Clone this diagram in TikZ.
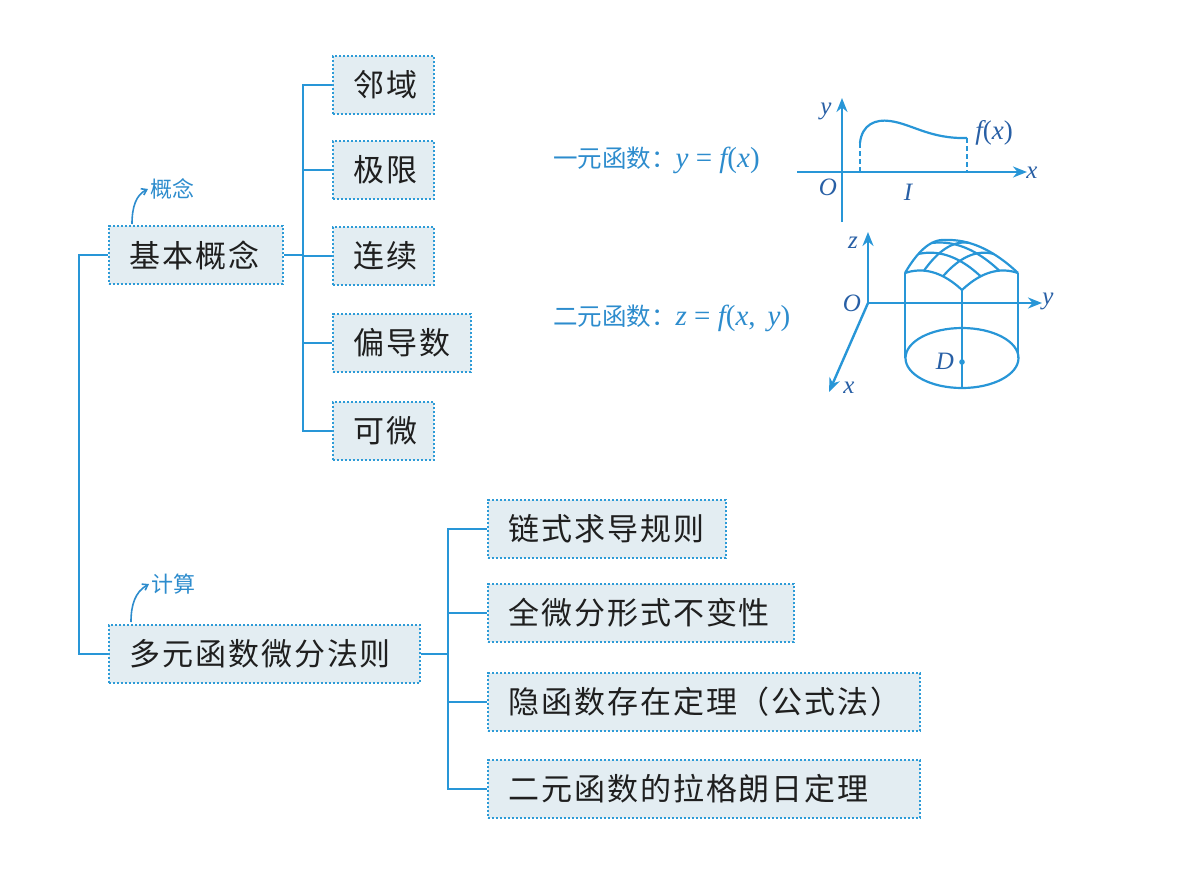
\documentclass[tikz,border=0pt]{standalone}
\usepackage{fontspec}
\newfontfamily\cjk{Noto Sans CJK SC}
\newfontfamily\cjkbox[LetterSpace=6]{Noto Sans CJK SC}
\newfontfamily\tms{Liberation Serif}
\newcommand\mi[1]{{\itshape #1}}
\usetikzlibrary{arrows.meta}
\definecolor{lineblue}{RGB}{40,150,215}
\definecolor{boxfill}{RGB}{227,237,242}
\definecolor{boxedge}{RGB}{45,155,215}
\definecolor{labblue}{RGB}{40,95,165}
\definecolor{handblue}{RGB}{45,140,205}
\newcommand\domeX[2]{((1-#1)*(1-#2)*905+(#1)*(1-#2)*962+(#1)*(#2)*1018+(1-#1)*(#2)*945)}
\newcommand\domeY[2]{((1-#1)*(1-#2)*273+(#1)*(1-#2)*290+(#1)*(#2)*273+(1-#1)*(#2)*240-18*(1-((2*#1-1)*(2*#1-1)+(2*#2-1)*(2*#2-1))/2))}
\newcommand\bxt[2]{\makebox[#1pt][l]{#2}}
\tikzset{
 cbox/.style={draw=boxedge, fill=boxfill, line width=1.8pt, dash pattern=on 2.4pt off 1.6pt,
   anchor=west, minimum height=58pt, inner xsep=21pt, inner ysep=0pt,
   font=\cjkbox\fontsize{31}{36}\selectfont, text=black!88},
 conn/.style={draw=lineblue, line width=2.4pt},
 ax/.style={draw=lineblue, line width=2.4pt, -{Stealth[length=14pt,width=11pt]}},
 lab/.style={text=labblue, font=\tms\fontsize{25}{28}\selectfont, inner sep=0pt},
 hand/.style={text=handblue, font=\cjk\fontsize{22}{24}\selectfont, inner sep=2pt, anchor=west},
 handarr/.style={draw=handblue, line width=1.6pt, -{Straight Barb[length=5pt,width=7pt]}},
 fnlab/.style={text=handblue, font=\tms\fontsize{29}{32}\selectfont, inner sep=0pt, anchor=west},
 shape3d/.style={draw=lineblue, line width=2.2pt},
}
\begin{document}
\begin{tikzpicture}[x=1pt,y=-1pt]
\useasboundingbox (0,0) rectangle (1189,876);

% boxes
\node[cbox] (b0) at (108,255) {\bxt{132}{基本概念}};
\node[cbox] (c1) at (332,85) {\bxt{59}{邻域}};
\node[cbox] (c2) at (332,170) {\bxt{59}{极限}};
\node[cbox] (c3) at (332,256) {\bxt{59}{连续}};
\node[cbox] (c4) at (332,343) {\bxt{96}{偏导数}};
\node[cbox] (c5) at (332,431) {\bxt{59}{可微}};
\node[cbox] (b1) at (108,654) {\bxt{269}{多元函数微分法则}};
\node[cbox] (d1) at (487,529) {\bxt{196}{链式求导规则}};
\node[cbox] (d2) at (487,613) {\bxt{264}{全微分形式不变性}};
\node[cbox] (d3) at (487,702) {\bxt{390}{隐函数存在定理（公式法）}};
\node[cbox] (d4) at (487,789) {\bxt{390}{二元函数的拉格朗日定理}};

% connectors
\coordinate (t) at (79,450);
\draw[conn] (b0.west) -| (t) |- (b1.west);
\coordinate (j1) at (303,256);
\draw[conn] (b0.east) -- (b0.east -| j1);
\draw[conn] (c1.west) -| (j1);
\draw[conn] (c5.west) -| (j1);
\draw[conn] (c2.west) -- (c2.west -| j1);
\draw[conn] (c3.west) -- (c3.west -| j1);
\draw[conn] (c4.west) -- (c4.west -| j1);
\coordinate (j2) at (448,654);
\draw[conn] (b1.east) -- (b1.east -| j2);
\draw[conn] (d1.west) -| (j2);
\draw[conn] (d4.west) -| (j2);
\draw[conn] (d2.west) -- (d2.west -| j2);
\draw[conn] (d3.west) -- (d3.west -| j2);

% handwritten annotations
\node[hand] (k0) at (148,189) {概念};
\coordinate (a0) at (132,224);
\draw[handarr] (a0) .. controls (132,207) and (136,195) .. (k0.west);
\node[hand] (k1) at (149,584) {计算};
\coordinate (a1) at (131,622);
\draw[handarr] (a1) .. controls (131,605) and (135,592) .. (k1.west);

% function labels
\node[fnlab] (f1) at (553,160) {{\cjk\fontsize{24.5}{28}\selectfont 一元函数：}\mi{y} = \mi{f}(\mi{x})};
\node[fnlab] (f2) at (553,318) {{\cjk\fontsize{24.5}{28}\selectfont 二元函数：}\mi{z} = \mi{f}(\mi{x},\hspace{12pt}\mi{y})};

% graph 1
\draw[ax] (842,222) -- (842,98);
\draw[ax] (797,172) -- (1027,172);
\draw[shape3d] (860,143) .. controls (862,124) and (876,119) .. (890,121)
   .. controls (912,124) and (930,139) .. (967,138);
\draw[shape3d, line width=1.8pt, dash pattern=on 5pt off 3pt] (860,143) -- (860,172);
\draw[shape3d, line width=1.8pt, dash pattern=on 5pt off 3pt] (967,138) -- (967,172);
\node[lab] (ly) at (826,111) {\mi{y}};
\node[lab] (lo) at (828,187) {\mi{O}};
\node[lab] (li) at (908,192) {\mi{I}};
\node[lab] (lx) at (1032,173) {\mi{x}};
\node[lab, font=\tms\fontsize{27}{30}\selectfont] (lf) at (994,133) {\mi{f}(\mi{x})};

% graph 2
\coordinate (o2) at (868,303);
\draw[ax] (o2) -- (868,232);
\draw[ax] (o2) -- (1042,303);
\draw[ax] (o2) -- (829,392);
% cylinder
\draw[shape3d] (962,358) ellipse (56.5 and 30);
\draw[shape3d] (905,273) -- (905,358);
\draw[shape3d] (1018,273) -- (1018,358);
\draw[shape3d] (962,290) -- (962,388);
\fill[lineblue] (962,362) circle (2.8);
% dome
\foreach \u in {0,0.3333,0.6667,1}{
  \draw[shape3d] plot[variable=\t,domain=0:1,samples=25,smooth] ({\domeX{\u}{\t}},{\domeY{\u}{\t}});
  \draw[shape3d] plot[variable=\t,domain=0:1,samples=25,smooth] ({\domeX{\t}{\u}},{\domeY{\t}{\u}});
}
\node[lab] (lz) at (853,243) {\mi{z}};
\node[lab] (lo2) at (852,303) {\mi{O}};
\node[lab] (ly2) at (1048,301) {\mi{y}};
\node[lab] (lx2) at (849,388) {\mi{x}};
\node[lab] (ld) at (945,361) {\mi{D}};
\end{tikzpicture}
\end{document}
